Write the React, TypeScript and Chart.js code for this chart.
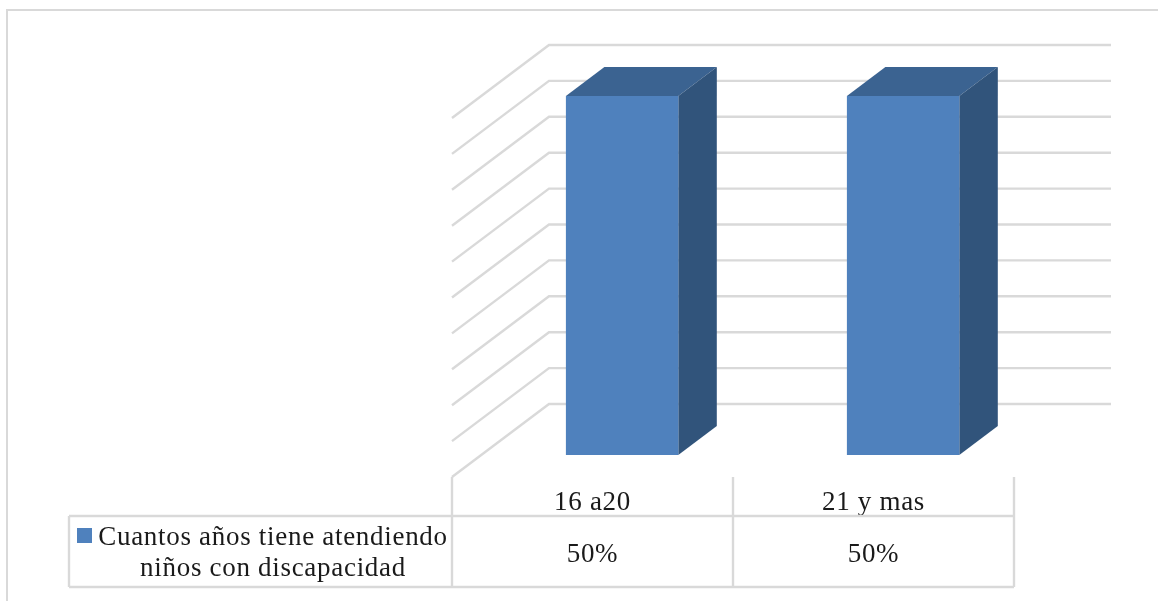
import React, { useEffect, useRef } from "react";
import { Chart, registerables } from "chart.js";

Chart.register(...registerables);

const categories = ["16 a20", "21 y mas"];
const seriesName = ["Cuantos años tiene atendiendo", "niños con discapacidad"];
const seriesValues = [0.5, 0.5];
const axisMax = 0.5;
const axisStep = 0.05;

const FONT = '"Liberation Serif", serif';
const FONT_SIZE = 27;
const SPACING = "0.7px";
const TEXT = "#1a1a1a";
const GRID = "#d9d9d9";
const FRONT = "#4f81bd";
const TOP = "#3b6391";
const SIDE = "#31547b";

const frontDx = -29.6, frontDy = 22;
const backDx = 67.4, backDy = -51;
const barDx = 38.5, barDy = -29;

const line = (ctx: any, x1: number, y1: number, x2: number, y2: number) => {
  ctx.beginPath();
  ctx.moveTo(x1, y1);
  ctx.lineTo(x2, y2);
  ctx.stroke();
};

const poly = (ctx: any, pts: number[][], fill: string) => {
  ctx.fillStyle = fill;
  ctx.beginPath();
  pts.forEach((p, i) => (i ? ctx.lineTo(p[0], p[1]) : ctx.moveTo(p[0], p[1])));
  ctx.closePath();
  ctx.fill();
};

const plugin3d = {
  id: "plugin3d",
  beforeDraw(chart: any) {
    const ctx = chart.ctx;
    ctx.save();
    ctx.fillStyle = "#ffffff";
    ctx.fillRect(0, 0, chart.width, chart.height);
    ctx.strokeStyle = GRID;
    ctx.lineWidth = 2;
    line(ctx, 7, 10, 7, chart.height);
    line(ctx, 6, 10, chart.width, 10);
    ctx.restore();
    ctx.letterSpacing = SPACING;
  },
  beforeDatasetsDraw(chart: any) {
    const ctx = chart.ctx;
    const { x, y } = chart.scales;
    ctx.save();
    ctx.strokeStyle = GRID;
    ctx.lineWidth = 2.4;
    y.ticks.forEach((t: any) => {
      const py = y.getPixelForValue(t.value);
      const fx = x.left + frontDx;
      const bx = x.left + backDx;
      ctx.lineJoin = "miter";
      ctx.beginPath();
      ctx.moveTo(fx, py + frontDy);
      ctx.lineTo(bx, py + backDy);
      ctx.lineTo(x.right + backDx, py + backDy);
      ctx.stroke();
    });
    chart.getDatasetMeta(0).data.forEach((bar: any) => {
      const p = bar.getProps(["x", "y", "base", "width"], true);
      const l = p.x - p.width / 2;
      const r = p.x + p.width / 2;
      poly(ctx, [[l, p.y], [l + barDx, p.y + barDy], [r + barDx, p.y + barDy], [r, p.y]], TOP);
      poly(ctx, [[r, p.y], [r + barDx, p.y + barDy], [r + barDx, p.base + barDy], [r, p.base]], SIDE);
    });
    ctx.restore();
  },
  afterDraw(chart: any) {
    const ctx = chart.ctx;
    const { x, y } = chart.scales;
    const base = y.getPixelForValue(0) + frontDy;
    const cell = x.width / categories.length;
    const left = x.left + frontDx;
    const right = x.right + frontDx;
    const rowTop = 516, rowBottom = 587, tableLeft = 69;
    ctx.save();
    ctx.strokeStyle = GRID;
    ctx.lineWidth = 2.4;
    for (let i = 0; i <= categories.length; i++) {
      line(ctx, left + i * cell, base, left + i * cell, rowBottom);
    }
    line(ctx, tableLeft, rowTop, right, rowTop);
    line(ctx, tableLeft, rowBottom, right, rowBottom);
    line(ctx, tableLeft, rowTop, tableLeft, rowBottom);
    ctx.fillStyle = FRONT;
    ctx.fillRect(77, 528, 15, 15);
    ctx.font = `${FONT_SIZE}px ${FONT}`;
    ctx.fillStyle = TEXT;
    ctx.textBaseline = "alphabetic";
    ctx.textAlign = "center";
    ctx.fillText(seriesName[0], 273, 545);
    ctx.fillText(seriesName[1], 273, 576);
    seriesValues.forEach((v, i) => {
      ctx.fillText(`${Math.round(v * 100)}%`, left + (i + 0.5) * cell, 562);
    });
    ctx.restore();
    ctx.letterSpacing = "0px";
  },
};

export default function App() {
  const ref = useRef<HTMLCanvasElement>(null);
  useEffect(() => {
    const chart = new Chart(ref.current as HTMLCanvasElement, {
      type: "bar",
      data: {
        labels: categories,
        datasets: [
          {
            label: seriesName.join(" "),
            data: seriesValues,
            backgroundColor: FRONT,
            borderWidth: 0,
            categoryPercentage: 1,
            barPercentage: 0.4,
          },
        ],
      },
      plugins: [plugin3d],
      options: {
        animation: false,
        responsive: false,
        layout: { padding: { left: 481.6, right: 114.4, top: 96, bottom: 86 } },
        plugins: { legend: { display: false }, tooltip: { enabled: false } },
        scales: {
          x: {
            grid: { display: false, drawTicks: false },
            border: { display: false },
            afterFit: (s: any) => {
              s.height = 60;
            },
            ticks: {
              autoSkip: false,
              maxRotation: 0,
              labelOffset: frontDx,
              padding: 32,
              color: TEXT,
              font: { family: FONT, size: FONT_SIZE },
            },
          },
          y: {
            display: false,
            min: 0,
            max: axisMax,
            ticks: { stepSize: axisStep },
          },
        },
      },
    });
    return () => chart.destroy();
  }, []);
  return (
    <div style={{ position: "fixed", left: 0, top: 0, width: 1158, height: 601 }}>
      <canvas ref={ref} width={1158} height={601} style={{ display: "block" }} />
    </div>
  );
}
